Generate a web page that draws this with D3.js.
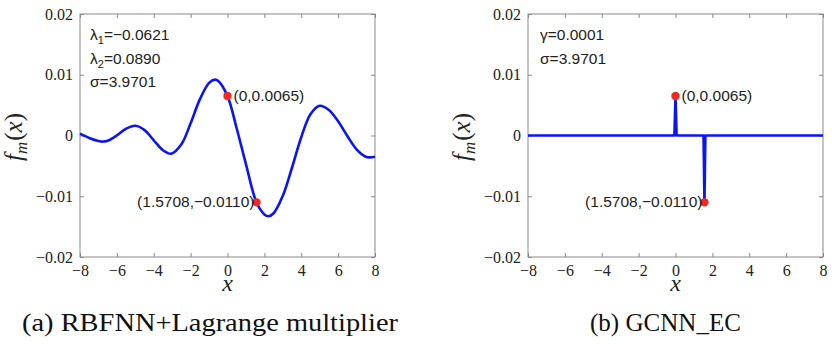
<!DOCTYPE html>
<html><head><meta charset="utf-8">
<script src="https://cdnjs.cloudflare.com/ajax/libs/d3/7.8.5/d3.min.js"></script>
<style>body{margin:0;background:#fff;} svg{display:block;}</style>
</head><body>
<svg id="c" width="832" height="344"></svg>
<script>
// ---- data ----
const xTicks = [-8,-6,-4,-2,0,2,4,6,8];
const xTickLabels = ["−8","−6","−4","−2","0","2","4","6","8"];
const yTicks = [-0.02,-0.01,0,0.01,0.02];
const yTickLabels = ["−0.02","−0.01","0","0.01","0.02"];
const rbfX = [-8,-7.5,-7,-6.75,-6.5,-6,-5.5,-5,-4.5,-4,-3.5,-3.05,-2.5,-2,-1.5,-1,-0.68,-0.5,0,0.5,1,1.5708,2,2.21,2.5,3,3.5,4,4.5,5,5.5,6,6.5,7,7.5,7.7,8];
const rbfY = [0.0003,-0.0004,-0.0009,-0.0010,-0.00087,0.00001,0.00111,0.0016,0.00089,-0.00079,-0.00242,-0.0030,-0.00145,0.00201,0.00594,0.00866,0.0092,0.00899,0.0065,0.00115,-0.0047,-0.0110,-0.0130,-0.0133,-0.0128,-0.00993,-0.00527,-0.00028,0.0035,0.0049,0.0042,0.00233,-0.00009,-0.00227,-0.00349,-0.0036,-0.0035];
const gcnnX = [-8,-0.06,0,0.06,1.52,1.5708,1.62,8];
const gcnnY = [0,0,0.0065,0,0,-0.0110,0,0];
const markX = [0,1.5708];
const markY = [0.0065,-0.0110];
const markLabels = ["(0,0.0065)","(1.5708,−0.0110)"];
const paramsA = [["λ","1","=−0.0621"],["λ","2","=0.0890"],["σ","","=3.9701"]];
const paramsB = [["γ","","=0.0001"],["σ","","=3.9701"]];
const captions = ["(a) RBFNN+Lagrange multiplier","(b) GCNN_EC"];

// ---- drawing ----
const svg = d3.select("#c");
const blue = "#0a14f5", red = "#ee2a22", frame = "#8a8a8a";
const serif = "'Liberation Serif','Times New Roman',serif";
const sans = "'Liberation Sans',Arial,sans-serif";

function panel(left, right, xs, ys, curve, params, labelPos) {
  const x = d3.scaleLinear().domain([-8,8]).range([left,right]);
  const y = d3.scaleLinear().domain([-0.02,0.02]).range([257,14]);
  const g = svg.append("g");
  g.append("rect").attr("x",left).attr("y",14).attr("width",right-left).attr("height",243)
    .attr("fill","none").attr("stroke",frame).attr("stroke-width",1);
  const tk = 4;
  g.append("g").attr("transform",`translate(0,257)`)
    .call(d3.axisBottom(x).tickValues(xTicks).tickSize(-tk).tickPadding(8).tickFormat((d,i)=>xTickLabels[i]))
    .call(a=>{a.select(".domain").remove(); a.selectAll("line").attr("stroke",frame);
      a.selectAll("text").attr("font-family",serif).attr("font-size",16).attr("fill","#222");});
  g.append("g").attr("transform",`translate(0,14)`)
    .call(d3.axisTop(x).tickValues(xTicks).tickSize(-tk).tickFormat(""))
    .call(a=>{a.select(".domain").remove(); a.selectAll("line").attr("stroke",frame);});
  g.append("g").attr("transform",`translate(${left},0)`)
    .call(d3.axisLeft(y).tickValues(yTicks).tickSize(-tk).tickPadding(7).tickFormat((d,i)=>yTickLabels[i]))
    .call(a=>{a.select(".domain").remove(); a.selectAll("line").attr("stroke",frame);
      a.selectAll("text").attr("font-family",serif).attr("font-size",16).attr("fill","#222");});
  g.append("g").attr("transform",`translate(${right},0)`)
    .call(d3.axisRight(y).tickValues(yTicks).tickSize(-tk).tickFormat(""))
    .call(a=>{a.select(".domain").remove(); a.selectAll("line").attr("stroke",frame);});
  const pts = xs.map((v,i)=>[v, ys[i]]);
  g.append("path").datum(pts)
    .attr("d", d3.line().x(d=>x(d[0])).y(d=>y(d[1])).curve(curve))
    .attr("fill","none").attr("stroke",blue).attr("stroke-width",2.6).attr("stroke-linejoin","round");
  markX.forEach((mx,i)=>{
    g.append("circle").attr("cx",x(mx)).attr("cy",y(markY[i])).attr("r",4.2).attr("fill",red);
  });
  g.append("text").attr("x",x(markX[0])+6).attr("y",y(markY[0])+5)
    .attr("font-family",sans).attr("font-size",15.5).attr("fill","#222").text(markLabels[0]);
  g.append("text").attr("x",x(markX[1])-2).attr("y",y(markY[1])+5).attr("text-anchor","end")
    .attr("font-family",sans).attr("font-size",15.5).attr("fill","#222").text(markLabels[1]);
  params.forEach((p,i)=>{
    const t = g.append("text").attr("x",labelPos).attr("y",40+i*23.5)
      .attr("font-family",sans).attr("font-size",15.5).attr("fill","#222");
    t.append("tspan").text(p[0]);
    if (p[1]) t.append("tspan").attr("font-size",11).attr("dy",4).text(p[1]);
    t.append("tspan").attr("dy",p[1]? -4:0).text(p[2]);
  });
  const yl = g.append("text").attr("transform",`translate(${left-58},137) rotate(-90)`)
    .attr("text-anchor","middle").attr("font-family",serif).attr("font-size",25).attr("fill","#222");
  yl.append("tspan").attr("font-style","italic").text("f");
  yl.append("tspan").attr("font-style","italic").attr("font-size",17).attr("dy",5).text("m");
  yl.append("tspan").attr("dy",-5).attr("dx",1).text("(");
  yl.append("tspan").attr("font-style","italic").text("x");
  yl.append("tspan").text(")");
  g.append("text").attr("x",(left+right)/2).attr("y",291).attr("text-anchor","middle")
    .attr("font-family",serif).attr("font-style","italic").attr("font-size",24).attr("fill","#222").text("x");
}

panel(80, 375, rbfX, rbfY, d3.curveCatmullRom.alpha(0.5), paramsA, 90);
panel(528, 823, gcnnX, gcnnY, d3.curveLinear, paramsB, 540);

svg.append("text").attr("x",22).attr("y",331).attr("font-family",serif).attr("font-size",25)
  .attr("textLength",376).attr("lengthAdjust","spacingAndGlyphs").attr("fill","#111").text(captions[0]);
svg.append("text").attr("x",590).attr("y",331).attr("font-family",serif).attr("font-size",25)
  .attr("textLength",151).attr("lengthAdjust","spacingAndGlyphs").attr("fill","#111").text(captions[1]);
</script>
</body></html>
